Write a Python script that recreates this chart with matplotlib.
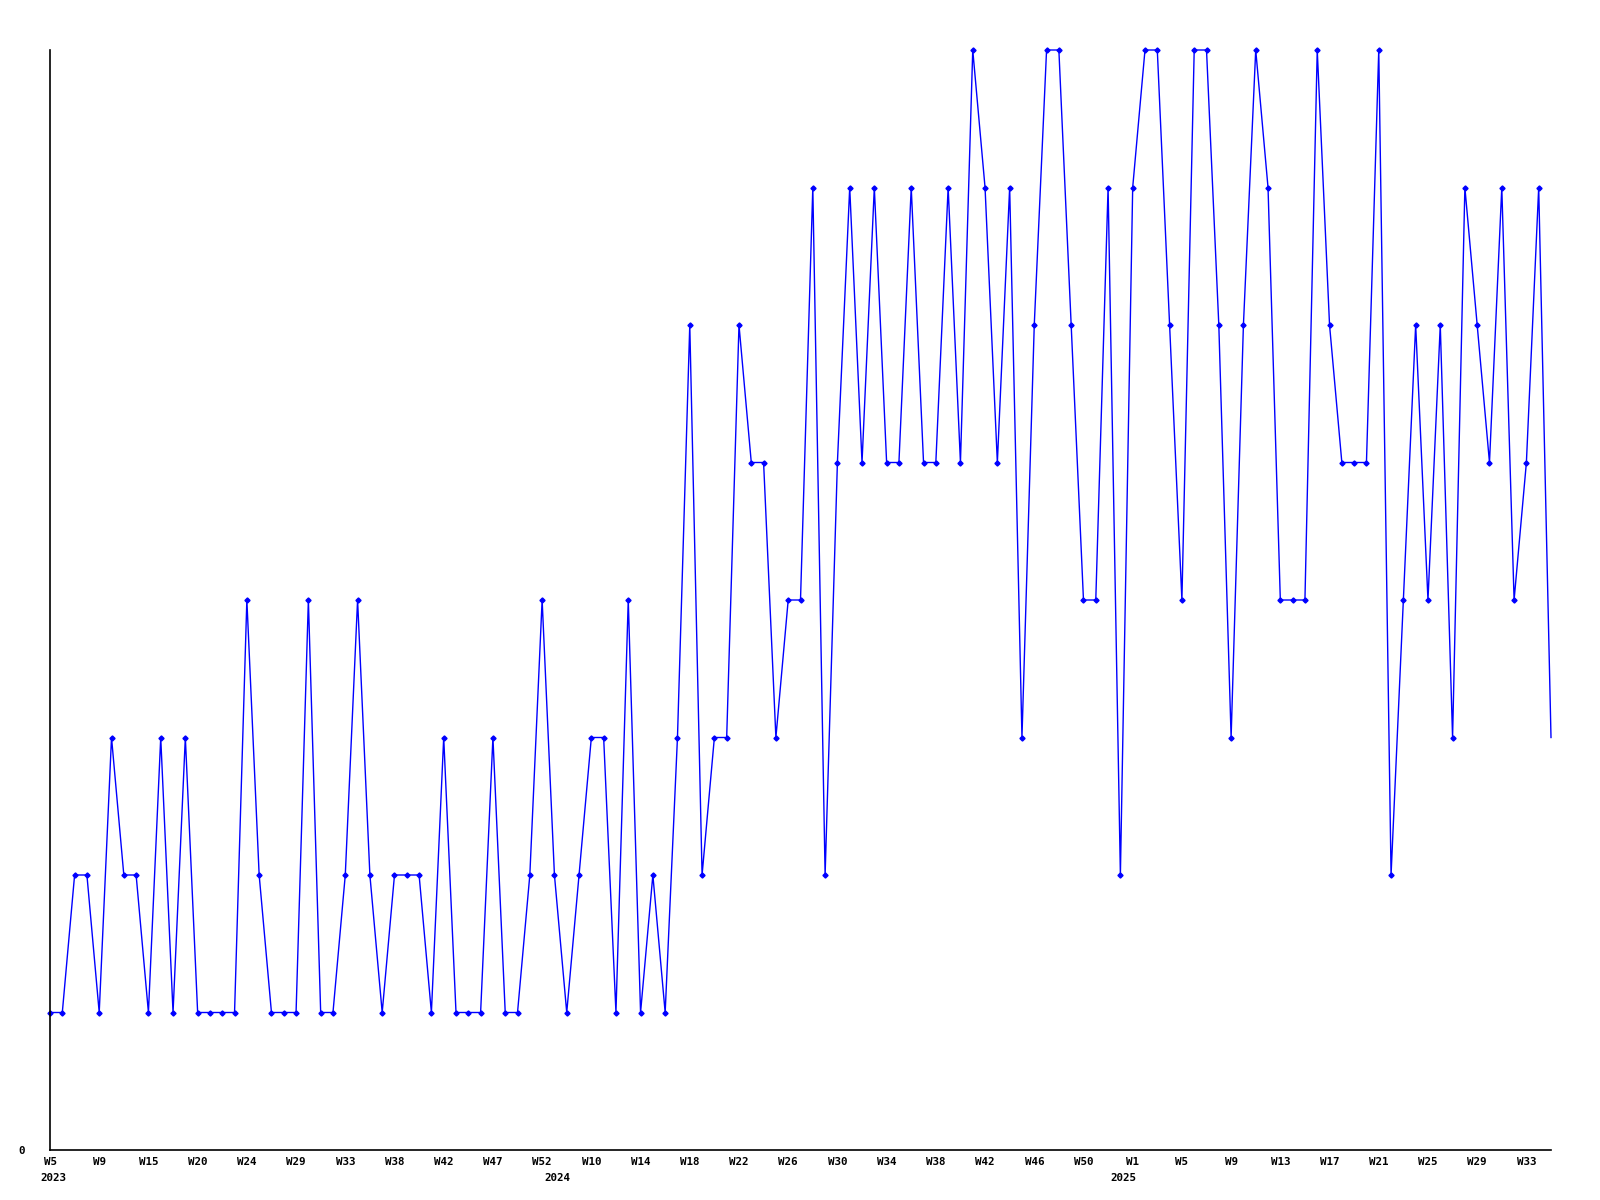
import matplotlib
matplotlib.use("Agg")
import matplotlib.pyplot as plt

# weekly counts (weeks with no activity are skipped, so x is just the index)
counts = [
    1, 1, 2, 2, 1, 3, 2, 2, 1, 3, 1, 3, 1, 1, 1, 1, 4, 2, 1, 1,
    1, 4, 1, 1, 2, 4, 2, 1, 2, 2, 2, 1, 3, 1, 1, 1, 3, 1, 1, 2,
    4, 2, 1, 2, 3, 3, 1, 4, 1, 2, 1, 3, 6, 2, 3, 3, 6, 5, 5, 3,
    4, 4, 7, 2, 5, 7, 5, 7, 5, 5, 7, 5, 5, 7, 5, 8, 7, 5, 7, 3,
    6, 8, 8, 6, 4, 4, 7, 2, 7, 8, 8, 6, 4, 8, 8, 6, 3, 6, 8, 7,
    4, 4, 4, 8, 6, 5, 5, 5, 8, 2, 4, 6, 4, 6, 3, 7, 6, 5, 7, 4,
    5, 7, 3,
]

week_labels = [
    "W5", "W9", "W15", "W20", "W24", "W29", "W33", "W38", "W42", "W47", "W52",
    "W10", "W14", "W18", "W22", "W26", "W30", "W34", "W38", "W42", "W46", "W50",
    "W1", "W5", "W9", "W13", "W17", "W21", "W25", "W29", "W33",
]
years = ["2023", "2024", "2025"]
year_start = [0, 41, 87]  # index of first point in each year

font = "DejaVu Sans Mono"

fig = plt.figure(figsize=(16, 12), dpi=100)
ax = fig.add_axes([50 / 1600, 50 / 1200, 1501 / 1600, 1100 / 1200])

x = list(range(len(counts)))
ax.plot(x, counts, color="#0000ff", linewidth=1.0, clip_on=False)
# last (current) week has no marker
ax.plot(x[:-1], counts[:-1], linestyle="none", marker="D", markersize=2.6,
        color="#0000ff", clip_on=False)

ax.set_xlim(0, len(counts) - 1)
ax.set_ylim(0, 8)

for s in ["top", "right"]:
    ax.spines[s].set_visible(False)
for s in ["left", "bottom"]:
    ax.spines[s].set_color("black")
    ax.spines[s].set_linewidth(1.2)

ax.set_xticks(range(0, 4 * len(week_labels), 4))
ax.set_xticklabels(week_labels, fontfamily=font, fontweight="bold", fontsize=7.8)
ax.tick_params(axis="x", length=0, pad=5)

ax.set_yticks([0])
ax.set_yticklabels(["0"], fontfamily=font, fontweight="bold", fontsize=7.8)
ax.tick_params(axis="y", length=0, pad=18)

for yr, idx in zip(years, year_start):
    ax.annotate(yr, xy=(idx, 0), xycoords=("data", "axes fraction"),
                xytext=(-10, -28), textcoords="offset pixels",
                ha="left", va="center", fontfamily=font, fontweight="bold",
                fontsize=7.8, annotation_clip=False)

fig.savefig("out.png", dpi=100, facecolor="white")
